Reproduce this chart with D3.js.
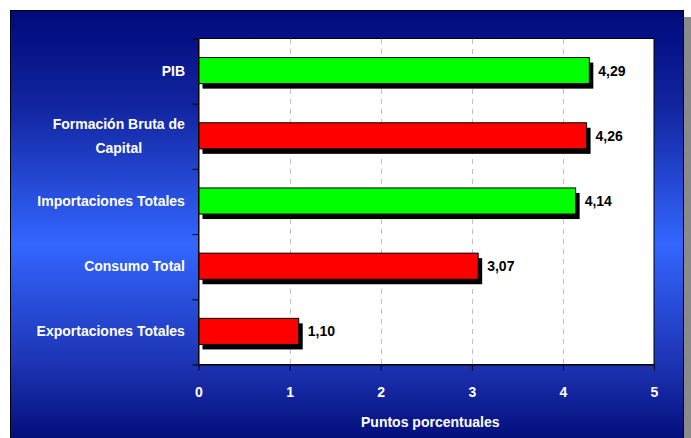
<!DOCTYPE html>
<html>
<head>
<meta charset="utf-8">
<style>
  body { margin: 0; background: #fff; }
  svg { display: block; font-family: "Liberation Sans", Arial, sans-serif; }
</style>
</head>
<body>
<svg width="691" height="438"></svg>
<script src="https://d3js.org/d3.v7.min.js"></script>
<script>

// data
var categories = ["PIB", "Formación Bruta de\nCapital", "Importaciones Totales", "Consumo Total", "Exportaciones Totales"];
var values = [4.29, 4.26, 4.14, 3.07, 1.10];
var barColors = ["#00ff00", "#ff0000", "#00ff00", "#ff0000", "#ff0000"];
var xTicks = [0, 1, 2, 3, 4, 5];
var xTitle = "Puntos porcentuales";

var svg = d3.select("svg"),
    width = +svg.attr("width"),
    height = +svg.attr("height");

var plot = { left: 198.5, right: 654, top: 38, bottom: 364 };

// background gradient (dark - bright - dark)
var defs = svg.append("defs");
var grad = defs.append("linearGradient")
    .attr("id", "bg")
    .attr("x1", 0).attr("y1", 0).attr("x2", 0).attr("y2", 1);
[[0, "#000a7c"], [0.22, "#1225a0"], [0.53, "#3366ff"], [0.8, "#1d34b4"], [1, "#000874"]]
  .forEach(function(s) {
    grad.append("stop").attr("offset", s[0]).attr("stop-color", s[1]);
  });

// frame shadow + frame
svg.append("rect")
    .attr("x", 684).attr("y", 17).attr("width", 7).attr("height", height)
    .attr("fill", "#8a8a8a");
svg.append("rect")
    .attr("x", 10.5).attr("y", 10.5).attr("width", 673).attr("height", 440)
    .attr("fill", "url(#bg)")
    .attr("stroke", "#000")
    .attr("stroke-width", 1);

var x = d3.scaleLinear()
    .domain([0, 5])
    .range([plot.left, plot.right]);

var y = d3.scaleBand()
    .domain(categories)
    .range([plot.top, plot.bottom])
    .paddingInner(0.6)
    .paddingOuter(0.3);

// plot area
svg.append("rect")
    .attr("x", plot.left).attr("y", plot.top + 0.5)
    .attr("width", plot.right - plot.left).attr("height", plot.bottom - plot.top)
    .attr("fill", "#fff")
    .attr("stroke", "#000")
    .attr("stroke-width", 1);

// dashed grid
svg.append("g")
  .selectAll("line")
  .data(xTicks.slice(1, -1))
  .enter().append("line")
    .attr("x1", function(d) { return Math.round(x(d)) + 0.5; })
    .attr("x2", function(d) { return Math.round(x(d)) + 0.5; })
    .attr("y1", plot.top + 1)
    .attr("y2", plot.bottom)
    .attr("stroke", "#c0c0c0")
    .attr("stroke-dasharray", "5,5");

// bar shadows
svg.append("g")
  .selectAll("rect")
  .data(values)
  .enter().append("rect")
    .attr("x", x(0) + 4)
    .attr("y", function(d, i) { return y(categories[i]) + 5; })
    .attr("width", function(d) { return x(d) - x(0); })
    .attr("height", y.bandwidth())
    .attr("fill", "#000");

// bars
svg.append("g")
  .selectAll("rect")
  .data(values)
  .enter().append("rect")
    .attr("x", x(0))
    .attr("y", function(d, i) { return y(categories[i]); })
    .attr("width", function(d) { return x(d) - x(0); })
    .attr("height", y.bandwidth())
    .attr("fill", function(d, i) { return barColors[i]; })
    .attr("stroke", "#000")
    .attr("stroke-width", 1);

// value labels
svg.append("g")
  .selectAll("text")
  .data(values)
  .enter().append("text")
    .attr("x", function(d) { return x(d) + 9; })
    .attr("y", function(d, i) { return y(categories[i]) + y.bandwidth() / 2; })
    .attr("dy", "0.36em")
    .attr("font-size", 14)
    .attr("font-weight", "bold")
    .attr("fill", "#000")
    .text(function(d) { return d3.format(".2f")(d).replace(".", ","); });

// y axis ticks at band edges
var yEdges = d3.scaleLinear().domain([0, categories.length]).range([plot.top, plot.bottom]);
svg.append("g")
    .attr("transform", "translate(" + plot.left + ",0.5)")
    .call(d3.axisLeft(yEdges).tickValues(d3.range(categories.length + 1)).tickSize(6).tickSizeOuter(0).tickFormat(""))
    .call(function(g) { g.selectAll("line").attr("stroke", "#000"); g.select(".domain").attr("stroke", "#000"); });

// category labels
var catG = svg.append("g");
categories.forEach(function(c, i) {
  var lines = c.split("\n");
  var cy = y(c) + y.bandwidth() / 2;
  var t = catG.append("text")
      .attr("font-size", 14)
      .attr("font-weight", "bold")
      .attr("fill", "#fff")
      .attr("text-anchor", "middle");
  lines.forEach(function(l, j) {
    t.append("tspan")
        .attr("x", 0)
        .attr("y", cy + (j - (lines.length - 1) / 2) * 23.5)
        .attr("dy", "0.36em")
        .text(l);
  });
  var w = t.node().getBBox().width;
  t.selectAll("tspan").attr("x", 185 - w / 2);
});

// x axis
svg.append("g")
    .attr("transform", "translate(0," + (plot.bottom + 0.5) + ")")
    .call(d3.axisBottom(x).tickValues(xTicks).tickFormat(d3.format("d")).tickSize(6).tickPadding(17).tickSizeOuter(0))
    .call(function(g) {
      g.select(".domain").attr("stroke", "#000");
      g.selectAll(".tick line").attr("stroke", "#000");
      g.selectAll(".tick text")
          .attr("font-size", 14)
          .attr("font-weight", "bold")
          .attr("fill", "#fff")
          .attr("font-family", "Liberation Sans, Arial, sans-serif");
    });

svg.append("text")
    .attr("x", (plot.left + plot.right) / 2 + 4)
    .attr("y", 427)
    .attr("text-anchor", "middle")
    .attr("font-size", 14)
    .attr("font-weight", "bold")
    .attr("fill", "#fff")
    .text(xTitle);

</script>
</body>
</html>
